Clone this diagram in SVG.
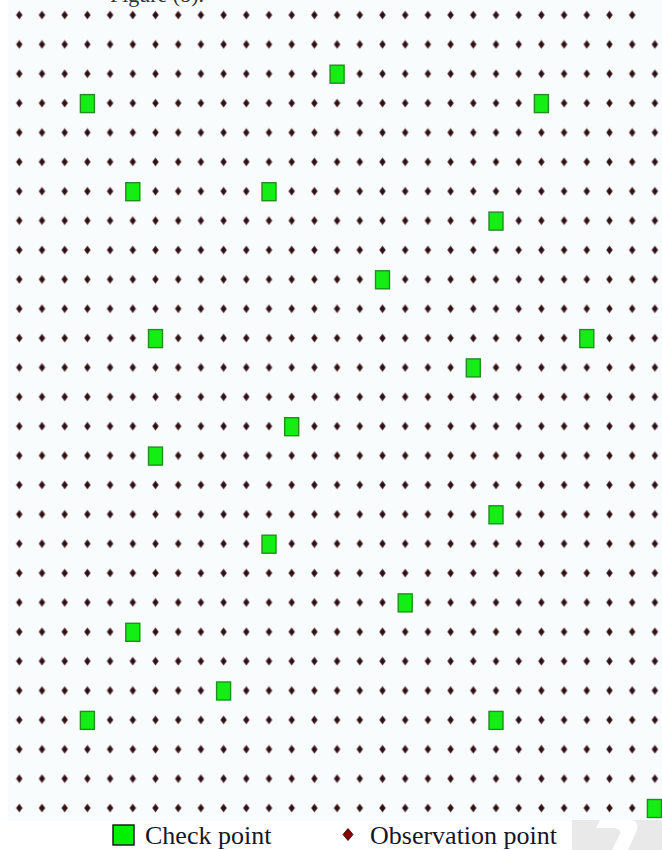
<svg xmlns="http://www.w3.org/2000/svg" xmlns:xlink="http://www.w3.org/1999/xlink" width="662" height="850" viewBox="0 0 662 850">
<style>
.chk{fill:#14ee14;stroke:#1f8f1f;stroke-width:1.4}
.lbl{font-family:"Liberation Serif","Times New Roman",serif;font-size:26px;fill:#15152a}
.cap{font-family:"Liberation Serif","Times New Roman",serif;font-size:22px;fill:#333}
</style>
<defs>
<pattern id="grid" patternUnits="userSpaceOnUse" x="7.95" y="0.315" width="22.7" height="29.37">
<path d="M11.35,10.9 L14.2,14.685 L11.35,18.5 L8.5,14.685 Z" fill="#2a1116" stroke="#4a1c24" stroke-opacity="0.6" stroke-width="1" stroke-linejoin="round"/>
</pattern>
</defs>
<rect x="0" y="0" width="662" height="850" fill="#ffffff"/>
<rect x="8" y="0" width="654" height="821" fill="#f9fcfc"/>
<text class="cap" x="204" y="2" text-anchor="end">Figure (b).</text>
<g id="observation-grid">
<rect x="7.95" y="0.315" width="658.3" height="822.36" fill="url(#grid)"/>
<rect x="644" y="4" width="18" height="22" fill="#f9fcfc"/>
</g>
<g id="check-points">
<rect id="cp1" class="chk" x="330.1" y="65.2" width="14" height="18"/>
<rect id="cp2" class="chk" x="80.4" y="94.6" width="14" height="18"/>
<rect id="cp3" class="chk" x="534.4" y="94.6" width="14" height="18"/>
<rect id="cp4" class="chk" x="125.8" y="182.7" width="14" height="18"/>
<rect id="cp5" class="chk" x="262" y="182.7" width="14" height="18"/>
<rect id="cp6" class="chk" x="489" y="212.1" width="14" height="18"/>
<rect id="cp7" class="chk" x="375.5" y="270.8" width="14" height="18"/>
<rect id="cp8" class="chk" x="148.5" y="329.6" width="14" height="18"/>
<rect id="cp9" class="chk" x="579.8" y="329.6" width="14" height="18"/>
<rect id="cp10" class="chk" x="466.3" y="358.9" width="14" height="18"/>
<rect id="cp11" class="chk" x="284.7" y="417.7" width="14" height="18"/>
<rect id="cp12" class="chk" x="148.5" y="447.1" width="14" height="18"/>
<rect id="cp13" class="chk" x="489" y="505.8" width="14" height="18"/>
<rect id="cp14" class="chk" x="262" y="535.2" width="14" height="18"/>
<rect id="cp15" class="chk" x="398.2" y="593.9" width="14" height="18"/>
<rect id="cp16" class="chk" x="125.8" y="623.3" width="14" height="18"/>
<rect id="cp17" class="chk" x="216.6" y="682" width="14" height="18"/>
<rect id="cp18" class="chk" x="80.4" y="711.4" width="14" height="18"/>
<rect id="cp19" class="chk" x="489" y="711.4" width="14" height="18"/>
<rect id="cp20" class="chk" x="647.4" y="799.5" width="14" height="18"/>
</g>
<g id="legend">
<rect x="113" y="825" width="21" height="20" fill="#00f000" stroke="#111" stroke-width="1.4"/>
<text class="lbl" x="145" y="844">Check point</text>
<polygon points="348,828.5 353,834.5 348,840.5 343,834.5" fill="#8b0000" stroke="#2a0000" stroke-width="0.8"/>
<text class="lbl" x="370" y="844">Observation point</text>
</g>
<g id="watermark">
<rect x="572" y="820" width="90" height="30" fill="#e9e9e9"/>
<path d="M600,820 L632,820 Q640,822 636,832 L628,850 L612,850 L620,834 Q622,828 612,828 L596,828 Z" fill="#ffffff"/>
</g>
</svg>
